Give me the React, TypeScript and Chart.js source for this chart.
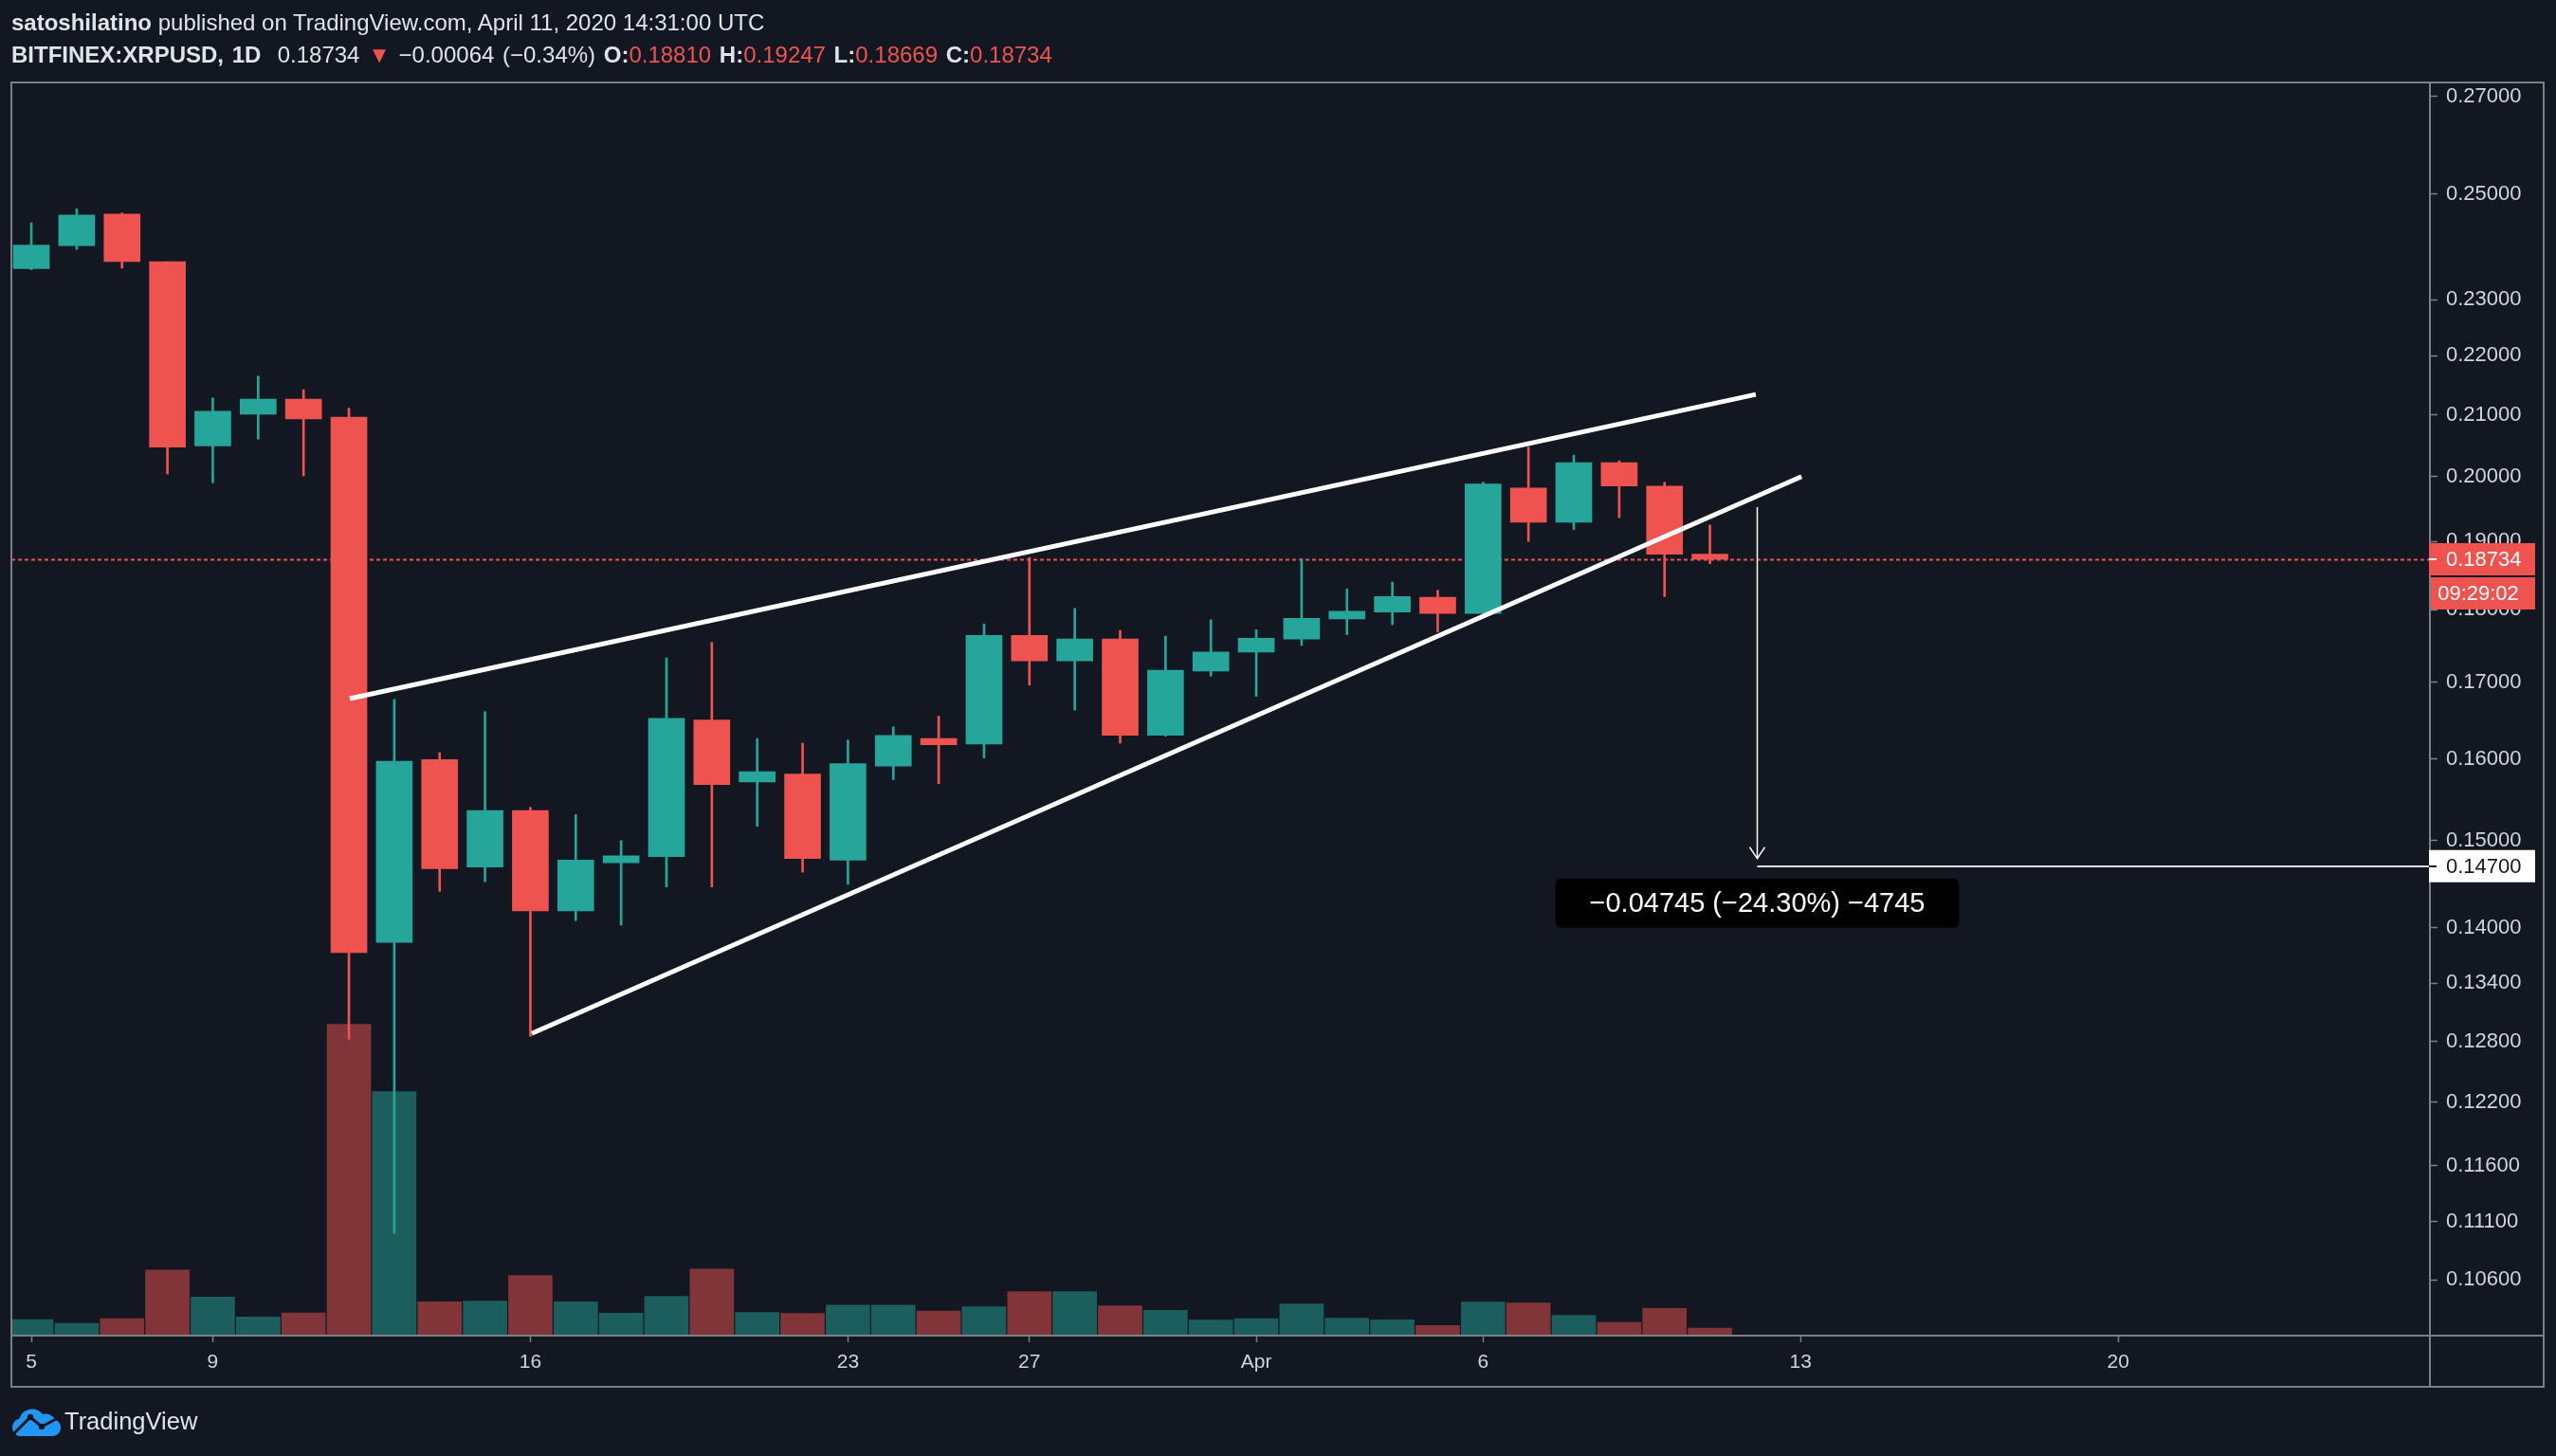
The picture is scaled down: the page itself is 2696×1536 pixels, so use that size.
import React, { useEffect, useRef } from "react";
import { Chart, registerables } from "chart.js";

Chart.register(...registerables);

// ---------- data ----------
const DATES = [
  "Mar 5", "Mar 6", "Mar 7", "Mar 8", "Mar 9", "Mar 10", "Mar 11", "Mar 12", "Mar 13", "Mar 14",
  "Mar 15", "Mar 16", "Mar 17", "Mar 18", "Mar 19", "Mar 20", "Mar 21", "Mar 22", "Mar 23", "Mar 24",
  "Mar 25", "Mar 26", "Mar 27", "Mar 28", "Mar 29", "Mar 30", "Mar 31", "Apr 1", "Apr 2", "Apr 3",
  "Apr 4", "Apr 5", "Apr 6", "Apr 7", "Apr 8", "Apr 9", "Apr 10", "Apr 11",
];
const OPEN = [
  0.2357, 0.2400, 0.2461, 0.2370, 0.2049, 0.2101, 0.2126, 0.2096, 0.1384, 0.1599,
  0.1469, 0.1536, 0.1419, 0.1474, 0.1481, 0.1650, 0.1571, 0.1581, 0.1477, 0.1591,
  0.1626, 0.1619, 0.1764, 0.1729, 0.1759, 0.1630, 0.1715, 0.1741, 0.1759, 0.1787,
  0.1797, 0.1818, 0.1795, 0.1982, 0.1929, 0.2022, 0.1985, 0.18810,
];
const HIGH = [
  0.2444, 0.2471, 0.2463, 0.2370, 0.2128, 0.2165, 0.2142, 0.2111, 0.1677, 0.1608,
  0.1661, 0.1540, 0.1531, 0.1500, 0.1733, 0.1754, 0.1626, 0.1620, 0.1624, 0.1641,
  0.1655, 0.1780, 0.1876, 0.1802, 0.1771, 0.1763, 0.1786, 0.1772, 0.1874, 0.1830,
  0.1840, 0.1828, 0.1991, 0.2047, 0.2034, 0.2025, 0.1991, 0.19247,
];
const LOW = [
  0.2355, 0.2393, 0.2358, 0.2004, 0.1990, 0.2060, 0.2001, 0.1282, 0.1100, 0.1441,
  0.1452, 0.1285, 0.1408, 0.1403, 0.1446, 0.1446, 0.1517, 0.1463, 0.1449, 0.1574,
  0.1569, 0.1601, 0.1696, 0.1663, 0.1620, 0.1629, 0.1708, 0.1681, 0.1750, 0.1765,
  0.1779, 0.1769, 0.1795, 0.1900, 0.1918, 0.1936, 0.1819, 0.18669,
];
const CLOSE = [
  0.2401, 0.2459, 0.2370, 0.2047, 0.2106, 0.2126, 0.2093, 0.1373, 0.1597, 0.1467,
  0.1536, 0.1419, 0.1477, 0.1482, 0.1652, 0.1568, 0.1584, 0.1479, 0.1594, 0.1630,
  0.1618, 0.1764, 0.1729, 0.1759, 0.1630, 0.1716, 0.1741, 0.1760, 0.1788, 0.1798,
  0.1819, 0.1795, 0.1988, 0.1929, 0.2022, 0.1985, 0.1881, 0.18734,
];
const VOLUME = [
  5.1, 3.9, 5.4, 20.7, 12.2, 5.9, 7.2, 98.4, 77.1, 10.7,
  10.9, 19.0, 10.7, 7.1, 12.4, 21.0, 7.3, 7.0, 9.6, 9.6,
  7.8, 9.1, 13.9, 13.9, 9.4, 8.0, 4.9, 5.4, 10.0, 5.5,
  5.0, 3.2, 10.6, 10.3, 6.4, 4.2, 8.6, 2.4,
];

const PRICE_TICKS = [
  0.27, 0.25, 0.23, 0.22, 0.21, 0.2, 0.19, 0.18, 0.17, 0.16,
  0.15, 0.14, 0.134, 0.128, 0.122, 0.116, 0.111, 0.106,
];
const DAY_TICKS = [0, 4, 11, 18, 22, 27, 32, 39, 46];
const DAY_TICK_LABELS = ["5", "9", "16", "23", "27", "Apr", "6", "13", "20"];

const UPPER_TREND_X = [7.02, 38.01];
const UPPER_TREND_Y = [0.1678, 0.2134];
const LOWER_TREND_X = [11.03, 39.02];
const LOWER_TREND_Y = [0.1288, 0.2];

const LAST_PRICE = 0.18734;
const COUNTDOWN = "09:29:02";
const MEASURE_X = 38.03;
const MEASURE_FROM = 0.1952;
const MEASURE_TO = 0.147;
const MEASURE_TEXT = "\u22120.04745 (\u221224.30%) \u22124745";
const TARGET_LABEL = "0.14700";

const X_MIN = -0.44;
const X_MAX = 52.87;
const Y_MIN = 0.10144;
const Y_MAX = 0.27305;
const VOL_MAX = 396;

// ---------- styles ----------
const BG = "#131722";
const UP = "#26a69a";
const DOWN = "#ef5350";
const UP_VOL = "#1c5e5e";
const DOWN_VOL = "#813539";
const FRAME = "#7c7f86";
const TEXT = "#d1d4dc";
const FONT = '"Liberation Sans", Arial, sans-serif';

const isUp = (i: number) => CLOSE[i] >= OPEN[i];

const overlayPlugin = {
  id: "tvOverlay",
  beforeDatasetsDraw(chart: any) {
    const { ctx, chartArea } = chart;
    const ys = chart.scales.y;
    const y = Math.round(ys.getPixelForValue(LAST_PRICE)) + 0.5;
    ctx.save();
    ctx.strokeStyle = DOWN;
    ctx.lineWidth = 2;
    ctx.setLineDash([4, 3]);
    ctx.beginPath();
    ctx.moveTo(chartArea.left, y);
    ctx.lineTo(chartArea.right, y);
    ctx.stroke();
    ctx.restore();
  },
  afterDatasetsDraw(chart: any) {
    const { ctx, chartArea } = chart;
    const xs = chart.scales.x;
    const ys = chart.scales.y;
    const x = Math.round(xs.getPixelForValue(MEASURE_X)) + 0.5;
    const y1 = ys.getPixelForValue(MEASURE_FROM);
    const y2 = ys.getPixelForValue(MEASURE_TO);
    ctx.save();
    ctx.beginPath();
    ctx.rect(chartArea.left, chartArea.top, chartArea.right - chartArea.left, chartArea.bottom - chartArea.top);
    ctx.clip();
    // vertical arrow
    ctx.strokeStyle = "#ffffff";
    ctx.lineWidth = 1.5;
    ctx.beginPath();
    ctx.moveTo(x, y1);
    ctx.lineTo(x, y2 - 8);
    ctx.stroke();
    ctx.beginPath();
    ctx.moveTo(x - 8, y2 - 20);
    ctx.lineTo(x, y2 - 8);
    ctx.lineTo(x + 8, y2 - 20);
    ctx.stroke();
    // target line
    ctx.strokeStyle = "#dcdcdc";
    ctx.lineWidth = 2;
    ctx.beginPath();
    ctx.moveTo(x, Math.round(y2));
    ctx.lineTo(chartArea.right, Math.round(y2));
    ctx.stroke();
    // measure box
    ctx.font = `29px ${FONT}`;
    const w = ctx.measureText(MEASURE_TEXT).width + 72;
    const h = 52;
    const bx = x - w / 2;
    const by = y2 + 13;
    ctx.fillStyle = "#000000";
    ctx.beginPath();
    (ctx as any).roundRect(bx, by, w, h, 6);
    ctx.fill();
    ctx.fillStyle = "#ffffff";
    ctx.textAlign = "center";
    ctx.textBaseline = "middle";
    ctx.fillText(MEASURE_TEXT, x, by + h / 2 + 1);
    ctx.restore();
  },
  afterDraw(chart: any) {
    const { ctx, chartArea } = chart;
    const xs = chart.scales.x;
    const ys = chart.scales.y;
    const left = chartArea.left;
    const top = chartArea.top;
    const right = ys.right;
    const bottom = xs.bottom;
    ctx.save();
    // frame
    ctx.strokeStyle = FRAME;
    ctx.lineWidth = 2;
    ctx.strokeRect(left, top, right - left, bottom - top);
    ctx.beginPath();
    ctx.moveTo(left, chartArea.bottom);
    ctx.lineTo(right, chartArea.bottom);
    ctx.moveTo(chartArea.right, top);
    ctx.lineTo(chartArea.right, bottom);
    ctx.stroke();

    const axL = chartArea.right - 1;
    const axR = chartArea.right + 111;
    ctx.font = `22px ${FONT}`;
    ctx.textBaseline = "middle";
    // last price label
    const ly = ys.getPixelForValue(LAST_PRICE);
    ctx.fillStyle = DOWN;
    ctx.fillRect(axL, ly - 17, axR - axL, 34);
    ctx.fillRect(axL + 2, ly + 19, axR - axL - 2, 34);
    ctx.strokeStyle = "#ffffff";
    ctx.lineWidth = 2;
    ctx.beginPath();
    ctx.moveTo(axL, ly);
    ctx.lineTo(axL + 8, ly);
    ctx.stroke();
    ctx.fillStyle = "#ffffff";
    ctx.textAlign = "left";
    ctx.fillText(LAST_PRICE.toFixed(5), chartArea.right + 17, ly + 1);
    ctx.textAlign = "center";
    ctx.fillText(COUNTDOWN, (axL + axR) / 2 - 4, ly + 37);
    // target label
    const ty = ys.getPixelForValue(MEASURE_TO);
    ctx.fillStyle = "#ffffff";
    ctx.fillRect(axL, ty - 17, axR - axL, 34);
    ctx.strokeStyle = BG;
    ctx.beginPath();
    ctx.moveTo(axL, Math.round(ty));
    ctx.lineTo(axL + 8, Math.round(ty));
    ctx.stroke();
    ctx.fillStyle = BG;
    ctx.textAlign = "left";
    ctx.fillText(TARGET_LABEL, chartArea.right + 17, ty + 1);
    ctx.restore();
  },
};

function CloudLogo() {
  return (
    <svg width="54" height="32" viewBox="0 0 54 32" style={{ position: "absolute", left: 11, top: 1484 }}>
      <path
        d="M9 31 H45 A9 9 0 0 0 47 13.5 A11 11 0 0 0 34 8 A14 14 0 0 0 9.5 12.5 A9.5 9.5 0 0 0 9 31 Z"
        fill="#2196f3"
      />
      <polyline points="3,29 21,11 33,21 50,12" fill="none" stroke={BG} strokeWidth="3" />
      <circle cx="21" cy="11" r="3.2" fill={BG} />
      <circle cx="33" cy="21" r="3.2" fill={BG} />
    </svg>
  );
}

export default function App() {
  const canvasRef = useRef<HTMLCanvasElement | null>(null);

  useEffect(() => {
    const canvas = canvasRef.current;
    if (!canvas) return;
    const candleColors = DATES.map((_, i) => (isUp(i) ? UP : DOWN));
    const volColors = DATES.map((_, i) => (isUp(i) ? UP_VOL : DOWN_VOL));

    const chart = new Chart(canvas, {
      type: "bar",
      data: {
        datasets: [
          {
            type: "line",
            label: "Upper trendline",
            data: UPPER_TREND_X.map((x, i) => ({ x, y: UPPER_TREND_Y[i] })),
            borderColor: "#ffffff",
            borderWidth: 5,
            borderCapStyle: "butt",
            pointRadius: 0,
            tension: 0,
            yAxisID: "y",
            order: 0,
          } as any,
          {
            type: "line",
            label: "Lower trendline",
            data: LOWER_TREND_X.map((x, i) => ({ x, y: LOWER_TREND_Y[i] })),
            borderColor: "#ffffff",
            borderWidth: 5,
            borderCapStyle: "butt",
            pointRadius: 0,
            tension: 0,
            yAxisID: "y",
            order: 0,
          } as any,
          {
            type: "bar",
            label: "Body",
            data: DATES.map((_, i) => ({ x: i, y: [Math.min(OPEN[i], CLOSE[i]), Math.max(OPEN[i], CLOSE[i])] })),
            backgroundColor: candleColors,
            barThickness: 38,
            minBarLength: 3,
            grouped: false,
            yAxisID: "y",
            order: 1,
          } as any,
          {
            type: "bar",
            label: "Wick",
            data: DATES.map((_, i) => ({ x: i, y: [LOW[i], HIGH[i]] })),
            backgroundColor: candleColors,
            barThickness: 2,
            grouped: false,
            yAxisID: "y",
            order: 2,
          } as any,
          {
            type: "bar",
            label: "Volume",
            data: DATES.map((_, i) => ({ x: i, y: VOLUME[i] })),
            backgroundColor: volColors,
            barThickness: 46,
            grouped: false,
            yAxisID: "vol",
            order: 3,
          } as any,
        ],
      },
      options: {
        responsive: false,
        devicePixelRatio: 1,
        animation: false,
        events: [],
        layout: { padding: { left: 12, top: 87, right: 13, bottom: 73 } },
        plugins: {
          legend: { display: false },
          tooltip: { enabled: false },
        },
        scales: {
          x: {
            type: "linear",
            min: X_MIN,
            max: X_MAX,
            bounds: "data",
            offset: false,
            position: "bottom",
            afterFit: (scale: any) => {
              scale.height = 54;
            },
            afterBuildTicks: (scale: any) => {
              scale.ticks = DAY_TICKS.map((v) => ({ value: v }));
            },
            grid: {
              offset: false,
              drawOnChartArea: false,
              drawTicks: true,
              tickLength: 7,
              tickWidth: 1.5,
              tickColor: FRAME,
              color: FRAME,
            },
            border: { display: false },
            ticks: {
              autoSkip: false,
              maxRotation: 0,
              padding: 9,
              color: TEXT,
              font: { family: FONT, size: 21 },
              callback: (_v: any, idx: number) => DAY_TICK_LABELS[idx] ?? "",
            },
          } as any,
          y: {
            type: "logarithmic",
            position: "right",
            min: Y_MIN,
            max: Y_MAX,
            bounds: "data",
            afterFit: (scale: any) => {
              scale.width = 120;
            },
            afterBuildTicks: (scale: any) => {
              scale.ticks = PRICE_TICKS.map((v) => ({ value: v }));
            },
            grid: {
              drawOnChartArea: false,
              drawTicks: true,
              tickLength: 8,
              tickWidth: 1.5,
              tickColor: FRAME,
              color: FRAME,
            },
            border: { display: false },
            ticks: {
              autoSkip: false,
              padding: 9,
              color: TEXT,
              font: { family: FONT, size: 22 },
              callback: (v: any) => Number(v).toFixed(5),
            },
          } as any,
          vol: {
            type: "linear",
            display: false,
            min: 0,
            max: VOL_MAX,
          } as any,
        },
      } as any,
      plugins: [overlayPlugin],
    });
    return () => chart.destroy();
  }, []);

  const headerStyle: React.CSSProperties = {
    position: "absolute",
    left: 12,
    fontFamily: FONT,
    fontSize: 24,
    lineHeight: "24px",
    color: "#e1e3ea",
    whiteSpace: "pre",
    margin: 0,
  };
  const red: React.CSSProperties = { color: DOWN };
  const bold: React.CSSProperties = { fontWeight: 700 };

  return (
    <div
      style={{
        position: "fixed",
        left: 0,
        top: 0,
        width: 2696,
        height: 1536,
        background: BG,
        overflow: "hidden",
      }}
    >
      <canvas ref={canvasRef} width={2696} height={1536} style={{ position: "absolute", left: 0, top: 0 }} />
      <div style={{ ...headerStyle, top: 12 }}>
        <span style={bold}>satoshilatino</span> published on TradingView.com, April 11, 2020 14:31:00 UTC
      </div>
      <div style={{ ...headerStyle, top: 46, wordSpacing: 2 }}>
        <span style={bold}>BITFINEX:XRPUSD, 1D</span>
        {"  0.18734 "}
        <span style={red}>{"\u25BC"}</span>
        {" \u22120.00064 (\u22120.34%) "}
        <span style={bold}>O:</span>
        <span style={red}>0.18810</span>
        <span style={bold}> H:</span>
        <span style={red}>0.19247</span>
        <span style={bold}> L:</span>
        <span style={red}>0.18669</span>
        <span style={bold}> C:</span>
        <span style={red}>0.18734</span>
      </div>
      <CloudLogo />
      <div
        style={{
          position: "absolute",
          left: 68,
          top: 1487,
          fontFamily: FONT,
          fontSize: 25.5,
          lineHeight: "25.5px",
          color: "#e1e3ea",
        }}
      >
        TradingView
      </div>
    </div>
  );
}
